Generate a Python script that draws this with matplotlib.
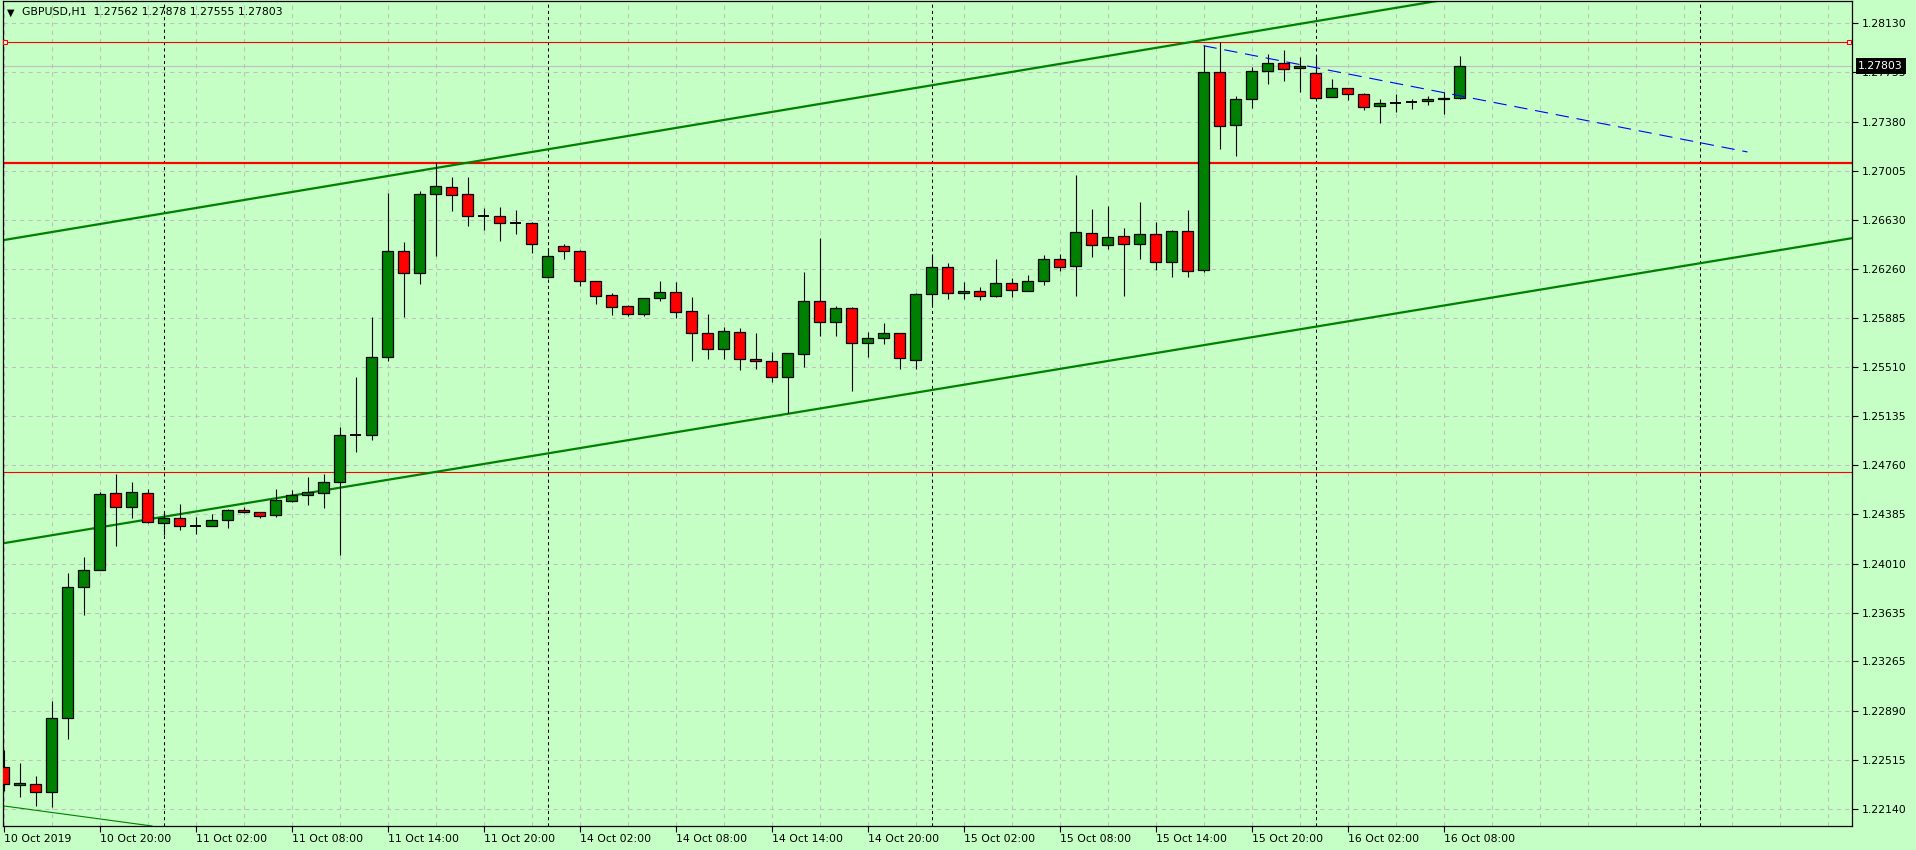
import matplotlib
matplotlib.use("Agg")
import matplotlib.pyplot as plt
import numpy as np

# GBPUSD H1, bars from 10 Oct 2019 14:00 to 16 Oct 09:00 (index 0..91)
opens = [1.22457, 1.22320, 1.22328, 1.22266, 1.22831, 1.23830, 1.23959, 1.24546, 1.24440, 1.24546,
         1.24318, 1.24356, 1.24297, 1.24299, 1.24340, 1.24417, 1.24402, 1.24379, 1.24485, 1.24531,
         1.24546, 1.24630, 1.24991, 1.24989, 1.25583, 1.26392, 1.26224, 1.26826, 1.26880, 1.26826,
         1.26657, 1.26658, 1.26606, 1.26605, 1.26199, 1.26430, 1.26392, 1.26163, 1.26056, 1.25972,
         1.25916, 1.26033, 1.26079, 1.25934, 1.25766, 1.25644, 1.25774, 1.25568, 1.25553, 1.25431,
         1.25606, 1.26010, 1.25855, 1.25957, 1.25690, 1.25728, 1.25766, 1.25560, 1.26064, 1.26270,
         1.26071, 1.26087, 1.26048, 1.26148, 1.26087, 1.26163, 1.26331, 1.26277, 1.26529, 1.26437,
         1.26506, 1.26445, 1.26521, 1.26308, 1.26544, 1.26247, 1.27756, 1.27351, 1.27551, 1.27764,
         1.27827, 1.27787, 1.27751, 1.27566, 1.27634, 1.27589, 1.27497, 1.27525, 1.27530, 1.27535,
         1.27551, 1.27562]
highs = [1.22589, 1.22492, 1.22391, 1.22963, 1.23936, 1.24063, 1.24554, 1.24694, 1.24633, 1.24579,
         1.24406, 1.24465, 1.24366, 1.24389, 1.24427, 1.24444, 1.24406, 1.24577, 1.24571, 1.24671,
         1.24694, 1.25052, 1.25433, 1.25891, 1.26836, 1.26462, 1.26851, 1.27072, 1.26958, 1.26958,
         1.26722, 1.26729, 1.26706, 1.26613, 1.26417, 1.26447, 1.26399, 1.26163, 1.26071, 1.25982,
         1.26033, 1.26165, 1.26158, 1.26043, 1.25913, 1.25814, 1.25807, 1.25769, 1.25624, 1.25614,
         1.26234, 1.26493, 1.25974, 1.25967, 1.25776, 1.25845, 1.25766, 1.26071, 1.26369, 1.26300,
         1.26155, 1.26117, 1.26331, 1.26186, 1.26209, 1.26361, 1.26369, 1.26971, 1.26712, 1.26735,
         1.26567, 1.26765, 1.26613, 1.26552, 1.26704, 1.27965, 1.27984, 1.27573, 1.27797, 1.27896,
         1.27926, 1.27873, 1.27881, 1.27705, 1.27634, 1.27601, 1.27551, 1.27591, 1.27551, 1.27576,
         1.27606, 1.27878]
lows = [1.22279, 1.22233, 1.22162, 1.22152, 1.22673, 1.23621, 1.23959, 1.24145, 1.24360, 1.24320,
        1.24228, 1.24269, 1.24236, 1.24299, 1.24284, 1.24400, 1.24360, 1.24368, 1.24478, 1.24459,
        1.24437, 1.24076, 1.24864, 1.24955, 1.25557, 1.25893, 1.26145, 1.26356, 1.26701, 1.26587,
        1.26554, 1.26472, 1.26526, 1.26381, 1.26188, 1.26335, 1.26129, 1.25992, 1.25908, 1.25901,
        1.25901, 1.26015, 1.25885, 1.25557, 1.25573, 1.25573, 1.25489, 1.25496, 1.25397, 1.25156,
        1.25512, 1.25748, 1.25748, 1.25329, 1.25588, 1.25682, 1.25496, 1.25496, 1.25977, 1.26030,
        1.26030, 1.26023, 1.26041, 1.26045, 1.26087, 1.26132, 1.26239, 1.26048, 1.26346, 1.26411,
        1.26053, 1.26335, 1.26251, 1.26198, 1.26198, 1.26231, 1.27174, 1.27120, 1.27486, 1.27670,
        1.27692, 1.27608, 1.27553, 1.27566, 1.27545, 1.27471, 1.27372, 1.27456, 1.27479, 1.27509,
        1.27441, 1.27555]
closes = [1.22328, 1.22335, 1.22266, 1.22831, 1.23830, 1.23959, 1.24539, 1.24440, 1.24554, 1.24325,
          1.24356, 1.24295, 1.24297, 1.24340, 1.24417, 1.24402, 1.24377, 1.24493, 1.24531, 1.24556,
          1.24630, 1.24989, 1.24991, 1.25583, 1.26392, 1.26224, 1.26826, 1.26887, 1.26819, 1.26658,
          1.26657, 1.26605, 1.26606, 1.26451, 1.26353, 1.26392, 1.26163, 1.26053, 1.25965, 1.25916,
          1.26033, 1.26079, 1.25931, 1.25766, 1.25644, 1.25782, 1.25568, 1.25553, 1.25431, 1.25614,
          1.26010, 1.25850, 1.25957, 1.25690, 1.25728, 1.25766, 1.25576, 1.26064, 1.26270, 1.26071,
          1.26087, 1.26048, 1.26148, 1.26094, 1.26163, 1.26331, 1.26270, 1.26536, 1.26437, 1.26498,
          1.26445, 1.26521, 1.26308, 1.26544, 1.26239, 1.27756, 1.27345, 1.27551, 1.27766, 1.27827,
          1.27779, 1.27802, 1.27558, 1.27634, 1.27589, 1.27490, 1.27520, 1.27525, 1.27530, 1.27553,
          1.27560, 1.27803]

x_ticks = [0, 6, 12, 18, 24, 30, 36, 42, 48, 54, 60, 66, 72, 78, 84, 90]
x_labels = ["10 Oct 2019", "10 Oct 20:00", "11 Oct 02:00", "11 Oct 08:00", "11 Oct 14:00",
            "11 Oct 20:00", "14 Oct 02:00", "14 Oct 08:00", "14 Oct 14:00", "14 Oct 20:00",
            "15 Oct 02:00", "15 Oct 08:00", "15 Oct 14:00", "15 Oct 20:00", "16 Oct 02:00",
            "16 Oct 08:00"]
y_labels = ["1.28130", "1.27755", "1.27380", "1.27005", "1.26630", "1.26260", "1.25885",
            "1.25510", "1.25135", "1.24760", "1.24385", "1.24010", "1.23635", "1.23265",
            "1.22890", "1.22515", "1.22140"]

day_starts = [10, 34, 58, 82, 106]
red_levels = [1.27985, 1.27063, 1.24706]
# trend lines as (bar, price) anchor pairs
channel_top = [(0, 1.26477), (89, 1.28288)]
channel_bottom = [(0, 1.24166), (115, 1.26481)]
old_line = [(-0.05, 1.22164), (9.16, 1.22012)]
blue_line = [(75, 1.27959), (109, 1.27149)]

bg = "#c5ffc5"
green = "#008000"
red = "#ff0000"
font = 7.8

fig = plt.figure(figsize=(19.16, 8.5), dpi=100, facecolor=bg)
ax = fig.add_axes([2.5 / 1916, 24 / 850, 1849.5 / 1916, 825 / 850], facecolor=bg)
ax.set_xlim(-0.0625, 115.53)
ax.set_ylim(1.22010, 1.28300)

# grid
for gx in range(0, 116, 3):
    ax.axvline(gx, color="#c0c0c0", lw=0.75, ls=(0, (4, 4)), zorder=0)
for lab in y_labels:
    ax.axhline(float(lab), color="#c0c0c0", lw=0.75, ls=(0, (4, 4)), zorder=0)
for d in day_starts:
    ax.axvline(d, color="black", lw=0.75, ls=(0, (3, 3)), zorder=1)

# horizontal levels
ax.axhline(red_levels[0], color=red, lw=0.8, zorder=2)
ax.axhline(red_levels[1], color=red, lw=1.6, zorder=2)
ax.axhline(red_levels[2], color=red, lw=0.8, zorder=2)
ax.plot([0.11, 115.36], [red_levels[0]] * 2, ls="none", marker="s", ms=3.5,
        mfc="white", mec=red, mew=0.8, zorder=6, clip_on=False)
ax.axhline(closes[-1], color="#c0c0c0", lw=0.8, zorder=2)

# trend lines
ax.axline(channel_top[0], channel_top[1], color=green, lw=1.6, zorder=2)
ax.axline(channel_bottom[0], channel_bottom[1], color=green, lw=1.6, zorder=2)
ax.axline(old_line[0], old_line[1], color=green, lw=0.8, zorder=2)
ax.plot([p[0] for p in blue_line], [p[1] for p in blue_line], color="#0000ff",
        lw=0.8, ls=(0, (12, 7)), zorder=5)

# candles
o = np.array(opens)
h = np.array(highs)
l = np.array(lows)
c = np.array(closes)
idx = np.arange(len(o))
body = np.abs(c - o)
doji = body < 1e-5
cols = np.where(c >= o, green, red)
ax.vlines(idx, l, h, color="black", lw=0.8, zorder=3)
ax.bar(idx[~doji], body[~doji], bottom=np.minimum(o, c)[~doji], width=0.69,
       color=cols[~doji], edgecolor="black", linewidth=0.9, zorder=4)
ax.hlines(o[doji], idx[doji] - 0.345, idx[doji] + 0.345, color="black", lw=1.4, zorder=4)

# axes
for s in ax.spines.values():
    s.set_color("black")
    s.set_linewidth(0.9)
ax.yaxis.tick_right()
ax.set_yticks([float(v) for v in y_labels])
ax.set_yticklabels(y_labels)
ax.set_xticks(x_ticks)
ax.set_xticklabels(x_labels, ha="left")
ax.tick_params(axis="y", direction="out", length=4, width=0.8, pad=3, labelsize=font)
ax.tick_params(axis="x", direction="out", length=4, width=0.8, pad=2, labelsize=font)

ax.annotate(f"{closes[-1]:.5f}", xy=(1, closes[-1]), xycoords=("axes fraction", "data"),
            xytext=(4.5, 0), textcoords="offset points", ha="left", va="center",
            color="white", fontsize=font, zorder=10, annotation_clip=False,
            bbox=dict(boxstyle="square,pad=0.25", fc="black", ec="none"))

fig.text(6.5 / 1916, 1 - 12.5 / 850, "\u25bc", fontsize=7, va="center", ha="left")
fig.text(21.5 / 1916, 1 - 12.5 / 850,
         f"GBPUSD,H1  {opens[-1]:.5f} {highs[-1]:.5f} {lows[-1]:.5f} {closes[-1]:.5f}",
         fontsize=font, va="center", ha="left")

fig.savefig("out.png", dpi=100, facecolor=bg)
